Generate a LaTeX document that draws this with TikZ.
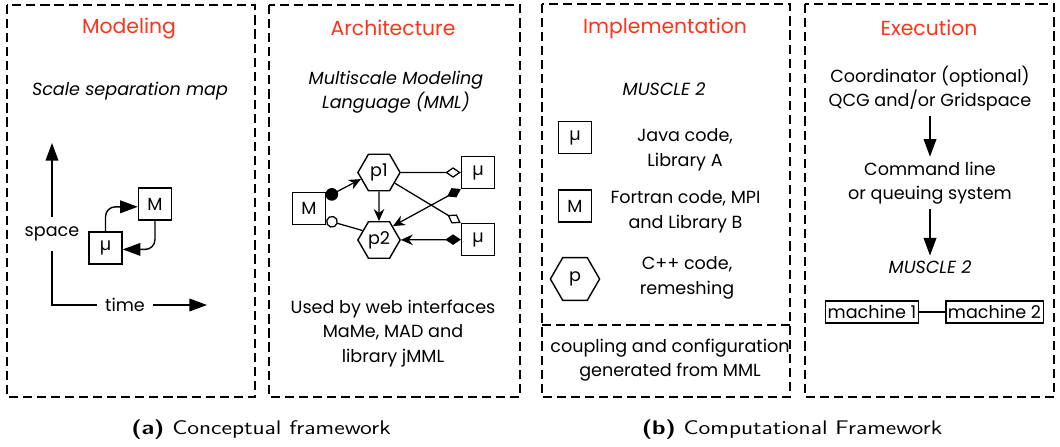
\documentclass[tikz,border=0pt]{standalone}
\usepackage{fontspec}
\setmainfont{Poppins}
\usetikzlibrary{arrows.meta,positioning,shapes.geometric}
\definecolor{HeadRed}{HTML}{FF3319}
\newcommand\bodysize{\fontsize{12.5}{17.5}\selectfont}
\newcommand\widecap[1]{\scalebox{1.22}[1]{#1}}

\tikzset{
  frame/.style={line width=1.1pt,dash pattern=on 6.5pt off 3.5pt},
  head/.style={text=HeadRed,font=\fontsize{14.5}{17}\selectfont},
  body/.style={align=center,font=\bodysize},
  slant/.style={align=center,font=\bodysize\itshape},
  kernel/.style={draw,line width=1pt,minimum width=23.5pt,minimum height=22.5pt,inner sep=0pt,font=\bodysize},
  submodel/.style={draw,line width=1pt,regular polygon,regular polygon sides=6,minimum size=30pt,inner sep=0pt,font=\bodysize},
  bigtip/.style={-{Triangle[length=12.5pt,width=9pt]},line width=1pt},
  couple/.style={line width=0.9pt},
  machine/.style={draw,line width=1pt,inner xsep=1.5pt,inner ysep=3pt,font=\bodysize},
  caption/.style={font=\sffamily\fontsize{14}{16}\selectfont},
}

\begin{document}
\begin{tikzpicture}[x=0.025cm,y=-0.025cm]
\useasboundingbox (0,0) rectangle (1060,447);

% the four dashed columns
\draw[frame] (7,5) rectangle (255,397);
\draw[frame] (269,5) rectangle (520,397);
\draw[frame] (542,4) rectangle (790,397);
\draw[frame] (805,4) rectangle (1054,397);
\draw[frame] (542,325) -- (790,325);

% Modeling: scale separation map
\node[head] (modeling) at (129,28) {Modeling};
\node[slant] (ssm) at (130,91) {Scale separation map};
\node[body,minimum height=24pt] (space) at (52,234) {space};
\node[body,minimum width=40pt] (time) at (125,305) {time};
\coordinate (origin) at (52,305);
\coordinate (spacetop) at (52,143);
\coordinate (timeend) at (207,305);
\draw[line width=1pt] (space.south) -- (origin) -- (time.west);
\draw[bigtip] (space.north) -- (spacetop);
\draw[bigtip] (time.east) -- (timeend);
\node[kernel] (micro) at (105.5,248) {µ};
\node[kernel] (macro) at (155,204) {M};
\draw[bigtip,rounded corners=7pt] (micro.north) |- ([yshift=-2pt]macro.west);
\draw[bigtip,rounded corners=7pt] (macro.south) |- ([yshift=-1pt]micro.east);

% Architecture: MML graph
\node[head] (architecture) at (393,28) {Architecture};
\node[slant] (mml) at (396,92) {Multiscale Modeling\\Language (MML)};
\node[submodel] (p1) at (379,172.5) {p1};
\node[submodel] (p2) at (379,240) {p2};
\node[kernel] (M2) at (309,208.5) {M};
\node[kernel] (mu1) at (478,172.5) {µ};
\node[kernel] (mu2) at (478,239.5) {µ};
\draw[couple,{Circle[length=9pt]}-{Stealth[length=8.5pt,width=7.5pt]}] (M2.33) -- (p1.200);
\draw[couple,{Circle[open,length=8.5pt]}-] (M2.-34) -- (p2.150);
\draw[couple,-{Stealth[length=8.5pt,width=7.5pt]}] (p1) -- (p2);
\draw[couple,-{Diamond[open,length=11pt,width=7.5pt]}] (p1) -- (mu1);
\draw[couple,-{Diamond[open,length=11pt,width=7.5pt]}] (p1.-34) -- (mu2.north west);
\draw[couple,{Stealth[length=8.5pt,width=7.5pt]}-{Diamond[length=11pt,width=7.5pt]}] (p2.45) -- (mu1.south west);
\draw[couple,{Stealth[length=8.5pt,width=7.5pt]}-{Diamond[length=11pt,width=7.5pt]}] (p2) -- (mu2);
\node[body] (users) at (393,333.5) {Used by web interfaces\\MaMe, MAD and\\library jMML};

% Implementation: MUSCLE 2 kernels
\node[head] (implementation) at (665,28) {Implementation};
\node[slant] (muscle) at (664,89) {MUSCLE 2};
\node[kernel] (javabox) at (575,137.5) {µ};
\node[kernel] (fortranbox) at (575,206) {M};
\node[submodel,minimum size=35pt] (cppbox) at (575,279) {p};
\node[body] (java) at (685,149.5) {Java code,\\Library A};
\node[body] (fortran) at (685.5,211.5) {Fortran code, MPI\\and Library B};
\node[body] (cpp) at (687,278) {C++ code,\\remeshing};
\node[body] (generated) at (670,360) {coupling and configuration\\generated from MML};

% Execution
\node[head] (execution) at (929,28) {Execution};
\node[body] (coordinator) at (930,88.5) {Coordinator (optional)\\QCG and/or Gridspace};
\node[body] (cmdline) at (930,183) {Command line\\or queuing system};
\node[slant] (muscle2) at (930,267) {MUSCLE 2};
\draw[bigtip] (coordinator) -- (cmdline);
\draw[bigtip] (cmdline) -- (muscle2);
\node[machine] (m1) at (872,312) {machine 1};
\node[machine] (m2) at (994.5,312) {machine 2};
\draw[line width=1pt] (m1) -- (m2);

% captions
\node[caption] (capa) at (261,430) {\widecap{\textbf{(a)} Conceptual framework}};
\node[caption] (capb) at (792,430) {\widecap{\textbf{(b)} Computational Framework}};
\end{tikzpicture}
\end{document}
